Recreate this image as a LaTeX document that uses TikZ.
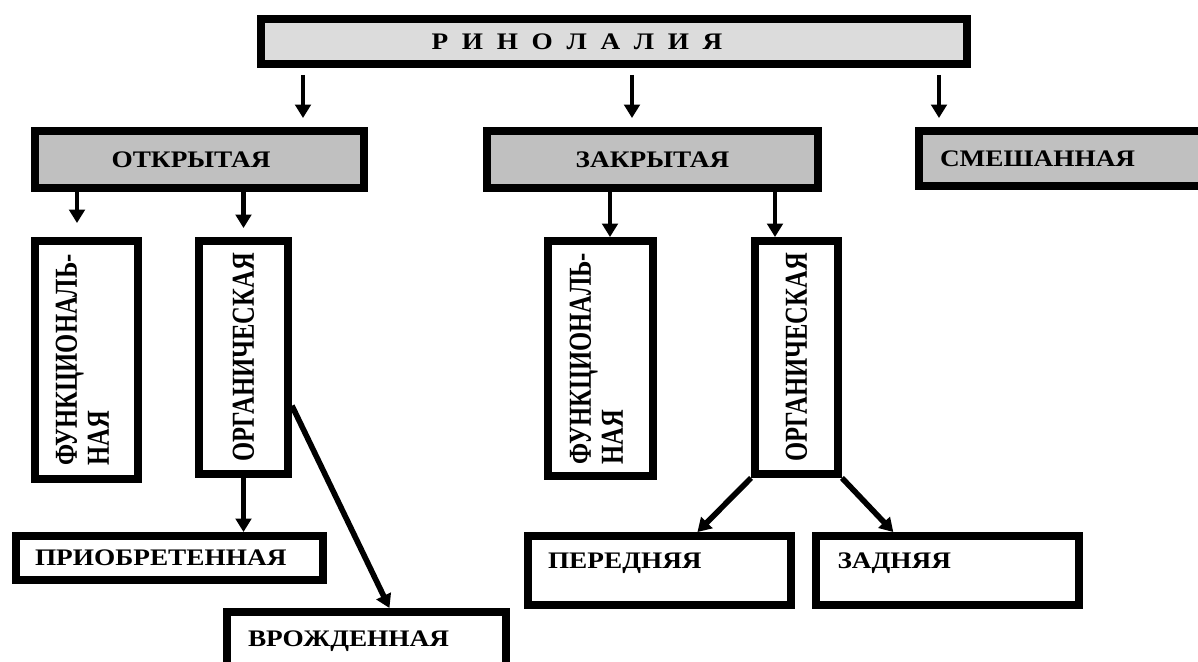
\documentclass[tikz,border=0pt]{standalone}
\usepackage{fontspec}
\setmainfont{Liberation Serif}
\usepackage{graphicx}
\usepackage{xcolor}
\usetikzlibrary{arrows.meta,calc}

\definecolor{topgray}{HTML}{DCDCDC}
\definecolor{midgray}{HTML}{C0C0C0}
\newcommand{\wtxt}[1]{\scalebox{1.15}[1]{#1}}
\newcommand{\uptxt}[1]{\fontsize{14}{14}\selectfont\scalebox{1.3}[1]{\rotatebox{90}{#1}}}

\tikzset{
  box/.style={draw,rectangle,line width=4.5pt,inner sep=0pt,
    font=\bfseries\fontsize{13.5}{13.5}\selectfont},
  conn/.style={-{Triangle[length=0.27cm,width=0.31cm]},line width=2.7pt},
}

\begin{document}
\begin{tikzpicture}[x=0.02cm,y=-0.02cm]
\useasboundingbox (0,0) rectangle (1198,662);
\clip (0,0) rectangle (1198,662);

% top
\node[box,fill=topgray,minimum width=14.12cm,minimum height=0.90cm] (rino) at (614,41.5)
  {\wtxt{Р\enspace И\enspace Н\enspace О\enspace Л\enspace А\enspace Л\enspace И\enspace Я}\hspace*{1.48cm}};

% second row
\node[box,fill=midgray,minimum width=6.58cm,minimum height=1.14cm] (otkr) at (199.5,159.5) {\wtxt{ОТКРЫТАЯ}\hspace*{0.34cm}};
\node[box,fill=midgray,minimum width=6.62cm,minimum height=1.14cm] (zakr) at (652.5,159.5) {\wtxt{ЗАКРЫТАЯ}};
\node[box,fill=midgray,minimum width=5.84cm,minimum height=1.10cm,text width=5.0cm,align=left] (smesh) at (1065,158.5) {\wtxt{СМЕШАННАЯ}};

% upright boxes
\node[box,minimum width=2.06cm,minimum height=4.76cm] (funcL) at (86.5,360)
  {\uptxt{\begin{tabular}{@{}l@{}}ФУНКЦИОНАЛЬ-\\НАЯ\end{tabular}}};
\node[box,minimum width=1.78cm,minimum height=4.66cm] (orgL) at (243.5,357.5) {\uptxt{ОРГАНИЧЕСКАЯ}};
\node[box,minimum width=2.10cm,minimum height=4.70cm] (funcR) at (600.5,358.5)
  {\uptxt{\begin{tabular}{@{}l@{}}ФУНКЦИОНАЛЬ-\\НАЯ\end{tabular}}};
\node[box,minimum width=1.66cm,minimum height=4.66cm] (orgR) at (796.5,357.5) {\uptxt{ОРГАНИЧЕСКАЯ}};

% bottom row
\node[box,minimum width=6.14cm,minimum height=0.88cm,text width=5.38cm,align=left] (priobr) at (169.5,558) {\wtxt{ПРИОБРЕТЕННАЯ}};
\node[box,minimum width=5.58cm,minimum height=1.18cm,text width=4.74cm,align=left] (vrozh) at (366.5,641.5) {\wtxt{ВРОЖДЕННАЯ}};
\node[box,minimum width=5.26cm,minimum height=1.38cm,text width=4.46cm,align=left,text depth=0.4cm] (pered) at (659.5,570.5) {\wtxt{ПЕРЕДНЯЯ}};
\node[box,minimum width=5.26cm,minimum height=1.38cm,text width=4.40cm,align=left,text depth=0.4cm] (zadn) at (947.5,570.5) {\wtxt{ЗАДНЯЯ}};

% arrows
\foreach \x/\n in {303/otkr,632/zakr,939/smesh}{
  \coordinate (d\n) at (\x,0);
  \draw[conn,shorten <=0.14cm,shorten >=0.18cm] (rino.south -| d\n) -- (\n.north -| d\n);
}
\coordinate (fl) at (77,0);
\coordinate (fr) at (610,0);
\coordinate (or) at (775,0);
\draw[conn,shorten >=0.28cm] (otkr.south -| fl) -- (funcL.north -| fl);
\draw[conn,shorten >=0.18cm] (otkr.south -| orgL.north) -- (orgL.north);
\draw[conn] (zakr.south -| fr) -- (funcR.north -| fr);
\draw[conn] (zakr.south -| or) -- (orgR.north -| or);
\draw[conn] (orgL.south) -- (orgL.south |- priobr.north);
\draw[conn,line width=3.2pt] ($(orgL.north east)!0.7!(orgL.south east)$) -- ($(vrozh.north west)!0.58!(vrozh.north east)$);
\draw[conn,line width=3.2pt] (orgR.south west) -- ($(pered.north west)!0.64!(pered.north east)$);
\draw[conn,line width=3.2pt] (orgR.south east) -- ($(zadn.north west)!0.30!(zadn.north east)$);
\end{tikzpicture}
\end{document}
